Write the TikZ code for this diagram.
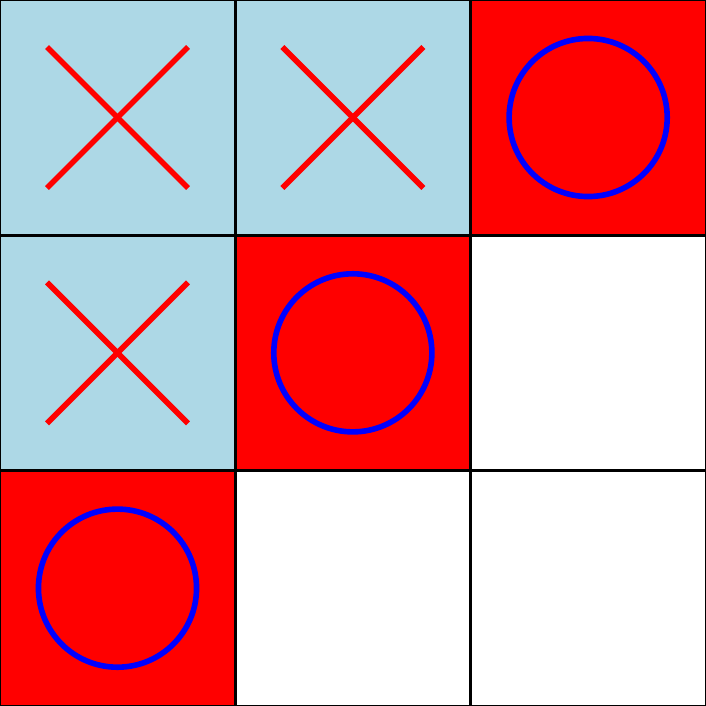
\documentclass[tikz,border=0pt]{standalone}
\definecolor{lblue}{RGB}{173,216,230}
\tikzset{
  cellbox/.style={draw=black, line width=0.75pt},
  xmark/.style={draw=red, line width=1.6pt},
  omark/.style={draw=blue, line width=1.6pt},
}
\begin{document}
\begin{tikzpicture}[x=0.01cm,y=-0.01cm]
\useasboundingbox (0,0) rectangle (706,706);
\def\cs{235.33}
% cells: row, col, fill
\foreach \r/\c/\f in {0/0/lblue,0/1/lblue,0/2/red,1/0/lblue,1/1/red,1/2/white,2/0/red,2/1/white,2/2/white}{
  \path[cellbox, fill=\f] (\c*\cs,\r*\cs) rectangle ({(\c+1)*\cs},{(\r+1)*\cs});
}
% X marks
\foreach \r/\c in {0/0,0/1,1/0}{
  \coordinate (xa\r\c) at ({\c*\cs+47},{\r*\cs+47});
  \coordinate (xb\r\c) at ({\c*\cs+188},{\r*\cs+188});
  \coordinate (xc\r\c) at ({\c*\cs+188},{\r*\cs+47});
  \coordinate (xd\r\c) at ({\c*\cs+47},{\r*\cs+188});
  \draw[xmark] (xa\r\c) -- (xb\r\c);
  \draw[xmark] (xc\r\c) -- (xd\r\c);
}
% O marks
\foreach \r/\c in {0/2,1/1,2/0}{
  \node[omark, circle, minimum size=1.58cm, inner sep=0pt] (o\r\c) at ({\c*\cs+117.5},{\r*\cs+117.5}) {};
}
\end{tikzpicture}
\end{document}
